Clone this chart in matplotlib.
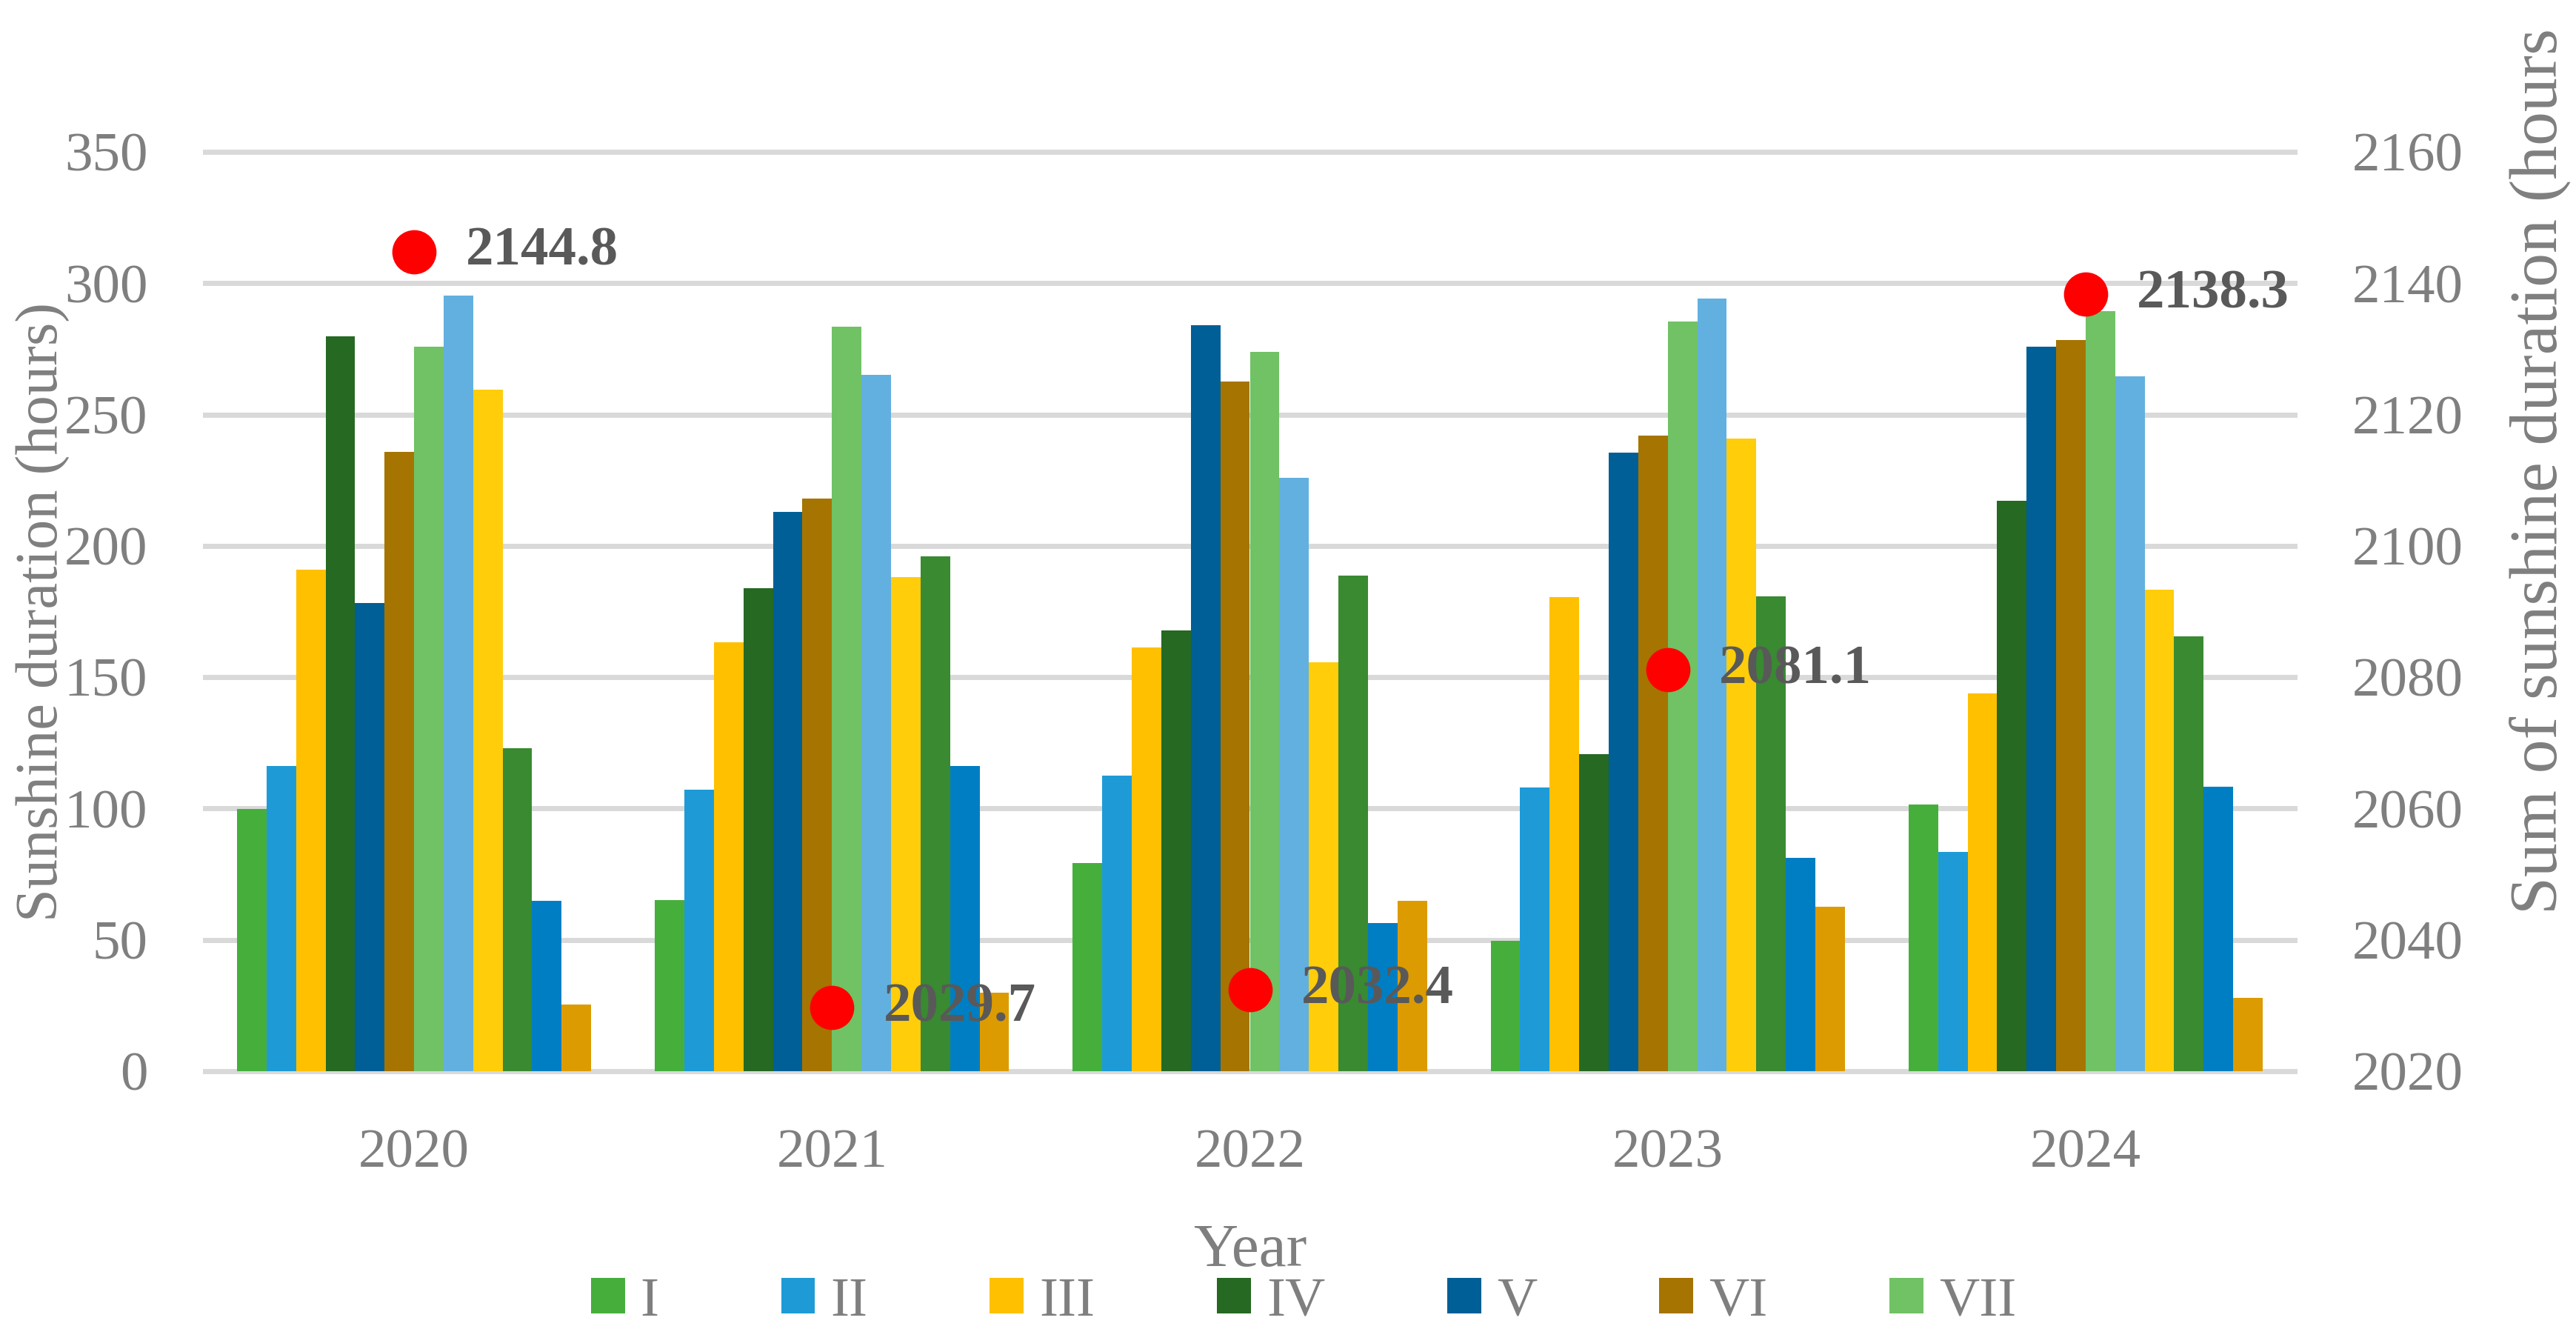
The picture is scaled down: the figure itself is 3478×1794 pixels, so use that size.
import matplotlib
matplotlib.use('Agg')
from matplotlib import pyplot as plt
from matplotlib.patches import Patch
from matplotlib.transforms import Bbox
import numpy as np

plt.rcParams['font.family'] = ['Liberation Serif', 'DejaVu Serif']

years = ['2020', '2021', '2022', '2023', '2024']
months = ['I', 'II', 'III', 'IV', 'V', 'VI', 'VII', 'VIII', 'IX', 'X', 'XI', 'XII']

# monthly sunshine duration (hours), January..December
hours_2020 = [99.7, 116.2, 191.0, 279.8, 178.2, 235.8, 275.9, 295.3, 259.4, 123.0, 64.9, 25.3]
hours_2021 = [65.1, 107.2, 163.3, 183.8, 212.9, 218.0, 283.4, 265.2, 188.1, 195.9, 116.2, 29.9]
hours_2022 = [79.2, 112.5, 161.4, 167.7, 283.9, 262.5, 273.9, 225.8, 155.6, 188.6, 56.4, 64.9]
hours_2023 = [49.6, 107.9, 180.6, 120.6, 235.5, 242.1, 285.4, 294.1, 240.9, 180.8, 81.2, 62.5]
hours_2024 = [101.6, 83.6, 143.7, 217.3, 275.9, 278.3, 289.3, 264.5, 183.3, 165.5, 108.2, 28.0]

# yearly sum of sunshine duration (hours)
annual_sum = [2144.8, 2029.7, 2032.4, 2081.1, 2138.3]

month_colors = ['#46AF3C', '#1E9BD7', '#FFC000', '#256923', '#005F96', '#A67400',
                '#70C264', '#62B0E0', '#FFCD0A', '#398A31', '#007EC3', '#DC9B00']

GRAY = '#7F7F7F'
W, H, DPI = 3478, 1794, 200


def plot_monthly_bars(ax, data_per_year, group_width=0.8475):
    """draws one bar per month inside each year group"""
    n = len(months)
    x = np.arange(len(years))
    bar_w = group_width / n
    for i, month in enumerate(months):
        vals = [data[i] for data in data_per_year]
        ax.bar(x + (i - (n - 1) / 2) * bar_w, vals, bar_w,
               color=month_colors[i], label=month, linewidth=0)
    return x


fig = plt.figure(figsize=(W / DPI, H / DPI), dpi=DPI)
ax = fig.add_axes([277 / W, 1 - 1446 / H, (3098 - 277) / W, (1446 - 205) / H])

x = plot_monthly_bars(ax, [hours_2020, hours_2021, hours_2022, hours_2023, hours_2024])
ax.set_xlim(-0.5, len(years) - 0.5)
ax.set_ylim(0, 350)
ax.set_yticks(range(0, 351, 50))
ax.set_xticks(x, years)
ax.tick_params(axis='both', length=0, pad=28, labelsize=27, labelcolor=GRAY)
ax.set_axisbelow(True)
ax.yaxis.grid(True, color='#D9D9D9', linewidth=2.5)
for line in ax.get_ygridlines():
    line.set_clip_on(False)
for sp in ax.spines.values():
    sp.set_visible(False)

ax.set_ylabel('Sunshine duration (hours)', fontsize=29, color=GRAY)
ax.yaxis.label.set_verticalalignment('baseline')
ax.yaxis.set_label_coords(-0.0705, 0.5)
ax.set_xlabel('Year', fontsize=30, color=GRAY)
ax.xaxis.label.set_verticalalignment('baseline')
ax.xaxis.set_label_coords(0.5, -0.2117)

# secondary axis with yearly sums
ax2 = ax.twinx()
ax2.set_ylim(2020, 2160)
ax2.set_yticks(range(2020, 2161, 20))
ax2.tick_params(axis='y', length=0, pad=28, labelsize=27, labelcolor=GRAY)
for sp in ax2.spines.values():
    sp.set_visible(False)
ax2.plot(x, annual_sum, linestyle='none', marker='o', markersize=21.5,
         color='#FF0000', markeredgewidth=0)
for xi, val in zip(x, annual_sum):
    ax2.annotate(f'{val:.1f}', (xi, val), xytext=(25, 0), textcoords='offset points',
                 ha='left', va='center', fontsize=27, fontweight='bold',
                 color='#595959', annotation_clip=False)

right_label = fig.text(3452 / W, 1 - 1234 / H, 'Sum of sunshine duration (hours)',
                       rotation=90, rotation_mode='anchor', ha='left', va='baseline',
                       fontsize=33, color=GRAY)
right_label.set_clip_box(Bbox([[0, 0], [W, H - 39]]))
right_label.set_clip_on(True)

handles = [Patch(facecolor=c, edgecolor='none') for c in month_colors[:7]]
fig.legend(handles, months[:7], loc='center',
           bbox_to_anchor=(1760 / W, 1 - 1758 / H), ncol=7, frameon=False,
           fontsize=27, handlelength=0.61, handleheight=0.61, handletextpad=0.28,
           columnspacing=2.2, labelcolor=GRAY, borderpad=0, borderaxespad=0)

fig.savefig('out.png', dpi=DPI)
